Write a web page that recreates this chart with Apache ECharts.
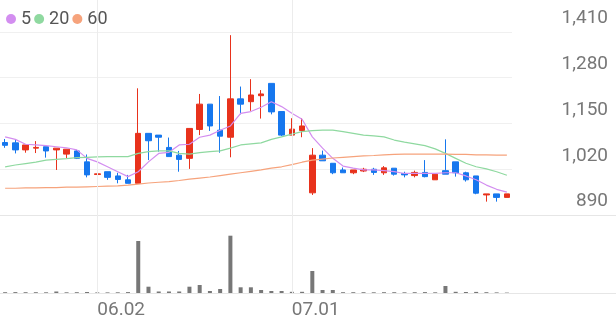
<!DOCTYPE html>
<html><head><meta charset="utf-8">
<script src="https://cdn.jsdelivr.net/npm/echarts@6/dist/echarts.min.js"></script>
<style>html,body{margin:0;padding:0;background:#fff}#c{width:616px;height:321px}</style>
</head><body><div id="c"></div>
<script>
const dates = ['05.20','05.21','05.22','05.23','05.26','05.27','05.28','05.29','05.30','06.02',
  '06.04','06.05','06.09','06.10','06.11','06.12','06.13','06.16','06.17','06.18',
  '06.19','06.20','06.23','06.24','06.25','06.26','06.27','06.30','07.01','07.02',
  '07.03','07.04','07.07','07.08','07.09','07.10','07.11','07.14','07.15','07.16',
  '07.17','07.18','07.21','07.22','07.23','07.24','07.25','07.28','07.29','07.30'];
const opens  = [1096,1095,1075,1080,1084,1075,1063,1072,1041,1005, 1013,1001,990,980,1122,1117,1082,1060,1051,1133,
  1205,1131,1111,1220,1212,1229,1264,1184,1117,1130, 953,1060,1037,1018,1010,1015,1020,1010,1023,1008,
  1002,1011,990,1016,1041,1010,1001,947,950,940];
const closes = [1088,1075,1089,1082,1072,1080,1077,1051,1004,1007, 997,991,980,1122,1101,1111,1056,1048,1136,1205,
  1143,1114,1220,1205,1231,1234,1183,1117,1134,1143, 1060,1044,1010,1010,1018,1020,1011,1024,1006,1004,
  1011,999,1006,1006,1010,990,952,950,940,950];
const lows   = [1081,1065,1067,1066,1053,1018,1052,1049,997,1005, 990,980,980,980,1046,1070,1056,1013,1021,1117,
  1129,1067,1054,1176,1186,1164,1176,1114,1117,1111, 947,1044,1006,1010,1006,1012,1004,1004,1002,997,
  997,997,990,1006,999,985,949,928,928,940];
const highs  = [1106,1105,1089,1100,1084,1080,1077,1075,1062,1015, 1013,1010,1004,1250,1122,1117,1110,1072,1136,1234,
  1205,1228,1401,1255,1276,1245,1264,1184,1165,1165, 1080,1073,1037,1025,1018,1024,1024,1029,1023,1013,
  1016,1046,1006,1105,1041,1013,1001,950,950,950];
const ma5  = [1112,1105,1091,1089,1087,1084,1081,1075,1051,1041, 1027,1013,999,1013,1041,1065,1068,1089,1091,1111,
  1117,1131,1143,1179,1184,1196,1212,1198,1179,1162, 1112,1080,1051,1029,1023,1018,1018,1016,1013,1008,
  1008,1008,1008,1010,1010,1001,990,975,963,955];
const ma20 = [1027,1032,1036,1040,1046,1048,1050,1053,1054,1055, 1056,1056,1056,1065,1070,1072,1072,1065,1063,1067,
  1070,1072,1080,1089,1092,1095,1105,1112,1120,1127, 1130,1131,1131,1127,1122,1117,1115,1112,1103,1097,
  1092,1087,1078,1065,1051,1037,1027,1021,1013,1003];
const ma60 = [966,966,967,967,968,968,969,969,970,971, 972,973,975,978,981,983,985,988,992,995,
  998,1002,1006,1010,1014,1018,1023,1027,1033,1040, 1046,1049,1052,1054,1056,1058,1059,1061,1062,1063,
  1063,1063,1063,1063,1062,1062,1061,1061,1060,1060];
const volumes = [80,90,80,80,70,150,70,80,100,60, 60,70,90,5200,630,150,150,150,630,800,
  200,400,5730,570,570,300,200,200,120,120, 2200,300,300,80,80,80,70,80,80,70,
  80,90,70,700,120,100,110,80,60,40];
const priceTicks = [890,1020,1150,1280,1410];
const labelDates = ['06.02','07.01'];
const maNames = ['5','20','60'];
const maColors = ['#d38ef0','#8fd9a0','#f6a37c'];

const candleData = dates.map((d,i)=>[opens[i],closes[i],lows[i],highs[i]]);
const step = priceTicks[1]-priceTicks[0];
const FONT = 'Roboto, "Noto Sans", sans-serif';
const vLine = {symbol:['none','none'], silent:true, label:{show:false}, animation:false,
  lineStyle:{color:'#ececec', type:'solid', width:1}, data: labelDates.map(d=>({xAxis:d}))};

const chart = echarts.init(document.getElementById('c'), null, {renderer:'canvas'});
chart.setOption({
  animation:false,
  backgroundColor:'#fff',
  textStyle:{fontFamily:FONT},
  legend:{left:1, top:5, icon:'circle', itemWidth:10, itemHeight:10, itemGap:3,
    data:maNames, textStyle:{fontSize:18, color:'#555', fontFamily:FONT}, selectedMode:false},
  grid:[
    {left:0, right:104, top:0, bottom:106},
    {left:0, right:104, top:215, bottom:28},
    {left:0, right:0, top:215, bottom:28}
  ],
  xAxis:[
    {type:'category', gridIndex:0, data:dates, boundaryGap:true, axisLine:{show:false}, axisTick:{show:false}, axisLabel:{show:false}, splitLine:{show:false}},
    {type:'category', gridIndex:1, data:dates, boundaryGap:true, axisLine:{show:false}, axisTick:{show:false}, splitLine:{show:false},
      axisLabel:{interval:(i,v)=>labelDates.includes(v), align:'left', margin:8, fontSize:19, color:'#777', fontFamily:FONT}},
    {type:'value', gridIndex:2, min:0, max:1, show:false}
  ],
  yAxis:[
    {type:'value', gridIndex:0, position:'right', min:priceTicks[0], max:priceTicks[0]+step*215/(183/4), interval:step,
      axisLine:{show:false}, axisTick:{show:false},
      splitLine:{show:true, showMaxLine:false, lineStyle:{color:'#f0f0f0'}},
      axisLabel:{showMaxLabel:false, align:'right', margin:96, verticalAlign:'bottom', padding:[0,0,4,0],
        fontSize:19, color:'#777', fontFamily:FONT, formatter:v=>Number(v).toLocaleString('en-US')}},
    {type:'value', gridIndex:1, min:0, max:7800, show:false},
    {type:'value', gridIndex:2, min:0, max:1, interval:1, axisLine:{show:false}, axisTick:{show:false}, axisLabel:{show:false},
      splitLine:{show:true, lineStyle:{color:'#e6e6e6'}}}
  ],
  series:[
    {type:'candlestick', name:'price', xAxisIndex:0, yAxisIndex:0, data:candleData, barWidth:6,
      itemStyle:{color:'#e8321c', color0:'#1677ee', borderColor:'#e8321c', borderColor0:'#1677ee', borderWidth:1},
      markLine:vLine, z:3},
    {type:'line', name:maNames[0], xAxisIndex:0, yAxisIndex:0, data:ma5, symbol:'none', lineStyle:{width:1.2, color:maColors[0]}, itemStyle:{color:maColors[0]}, z:4},
    {type:'line', name:maNames[1], xAxisIndex:0, yAxisIndex:0, data:ma20, symbol:'none', lineStyle:{width:1.2, color:maColors[1]}, itemStyle:{color:maColors[1]}, z:4},
    {type:'line', name:maNames[2], xAxisIndex:0, yAxisIndex:0, data:ma60, symbol:'none', lineStyle:{width:1.2, color:maColors[2]}, itemStyle:{color:maColors[2]}, z:4},
    {type:'bar', name:'volume', xAxisIndex:1, yAxisIndex:1, data:volumes, barWidth:4, itemStyle:{color:'#777'}, markLine:vLine},
    {type:'line', name:'helper', xAxisIndex:2, yAxisIndex:2, data:[], silent:true}
  ]
});
</script></body></html>
